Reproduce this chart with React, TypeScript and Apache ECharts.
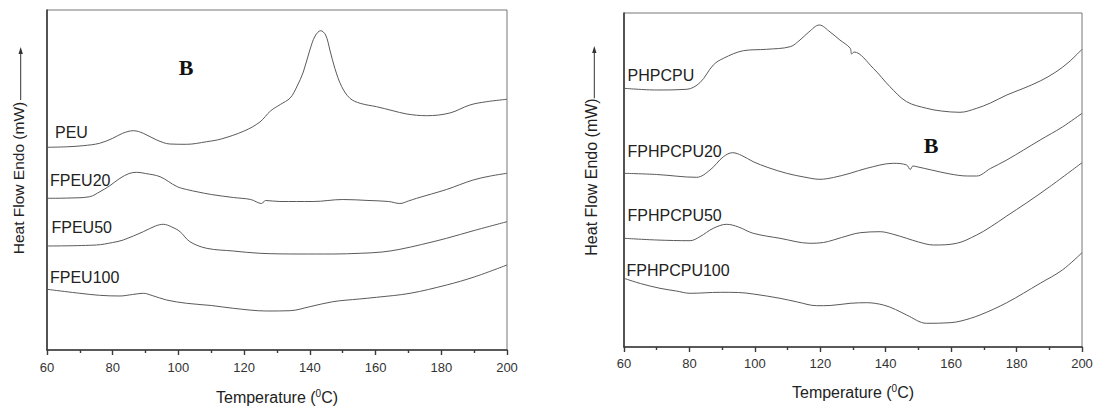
import React, { useEffect, useRef } from "react";
import * as echarts from "echarts";

// Temperature (°C) sample points and heat-flow values (arbitrary units, endo up)
const peuT = [60, 66, 71, 76, 80, 83, 86.3, 89.3, 93.4, 97.4, 102.5, 108.6, 113, 120, 124.8, 128, 131, 134, 136, 138, 140, 141.6, 143.3, 144.8, 146.1, 147.6, 149.7, 152.2, 155.3, 160.3, 165, 169.5, 175.5, 182.6, 188.7, 193.8, 200];
const peuV = [20.27, 20.32, 20.43, 20.67, 21.17, 21.67, 21.93, 21.67, 21.0, 20.6, 20.57, 20.83, 21.1, 21.9, 22.8, 23.9, 24.55, 25.2, 26.3, 27.8, 30.0, 31.4, 31.93, 31.5, 30.0, 28.17, 26.33, 25.17, 24.67, 24.33, 23.95, 23.6, 23.43, 23.7, 24.5, 24.83, 25.07];

const fpeu20T = [60, 67, 73, 76.1, 79, 82.2, 85, 87.3, 90, 94.4, 99.5, 102.5, 106, 110, 116.7, 122, 125.3, 126.5, 130.9, 141, 150, 158, 164, 167.4, 170, 172.5, 177, 181.6, 189.7, 195, 200];
const fpeu20V = [15.17, 15.2, 15.33, 15.83, 16.4, 17.17, 17.65, 17.77, 17.65, 17.33, 16.35, 16.05, 15.8, 15.55, 15.25, 15.05, 14.65, 14.95, 14.85, 14.85, 15.05, 14.95, 14.85, 14.65, 14.9, 15.17, 15.6, 16.05, 17.0, 17.4, 17.67];

const fpeu50T = [60, 75, 80, 83.2, 89.3, 93, 95.4, 98, 100.5, 103.5, 108.6, 116.7, 124.8, 137, 147, 155.3, 162, 167.4, 174, 181.6, 190, 200];
const fpeu50V = [10.4, 10.5, 10.75, 11.0, 11.83, 12.4, 12.57, 12.3, 11.83, 10.83, 10.17, 9.9, 9.67, 9.6, 9.6, 9.67, 9.8, 10.07, 10.55, 11.17, 11.95, 12.83];

const fpeu100T = [60, 70, 76, 82.2, 86, 89.3, 92, 96.4, 102.5, 110, 116.7, 126.9, 134, 140, 147, 155, 160.3, 170.5, 181.6, 190, 200];
const fpeu100V = [6.07, 5.67, 5.47, 5.4, 5.55, 5.67, 5.45, 5.0, 4.67, 4.45, 4.17, 3.9, 3.93, 4.33, 4.83, 5.1, 5.27, 5.67, 6.5, 7.3, 8.5];

const phpcpuT = [60, 70, 79.2, 83.2, 87.3, 90.4, 96.5, 103.6, 110.8, 113.8, 116.5, 119.7, 123, 126, 129.1, 129.6, 130.3, 136.2, 141.3, 146.4, 152.5, 157, 162.7, 167.8, 172, 177, 182, 187.2, 192, 196, 200];
const phpcpuV = [25.87, 25.7, 25.77, 26.43, 28.2, 28.87, 29.63, 29.77, 30.03, 30.7, 31.5, 32.2, 31.5, 30.7, 29.9, 29.3, 29.5, 27.87, 26.03, 24.53, 23.87, 23.6, 23.47, 23.87, 24.4, 25.2, 25.85, 26.6, 27.5, 28.5, 29.77];

const fph20T = [60, 70, 82.2, 86.3, 90.4, 93.2, 96, 99.5, 104, 109.7, 115, 119.9, 124, 129.1, 134.2, 142.3, 146.4, 147.5, 148.3, 149.5, 154, 159.7, 165, 167.8, 172, 177, 187.2, 194, 200];
const fph20V = [17.37, 17.25, 16.97, 17.7, 19.03, 19.43, 19.15, 18.53, 17.95, 17.37, 17.0, 16.77, 16.95, 17.37, 17.87, 18.37, 18.2, 17.75, 18.1, 18.03, 17.7, 17.3, 17.1, 17.1, 17.85, 18.7, 20.7, 22.0, 23.37];

const fph50T = [60, 70, 80.2, 83.2, 87.3, 91.4, 95, 99.5, 107.7, 116.9, 121, 124, 129.1, 132.2, 138.3, 142, 146.4, 150, 154.6, 161.7, 167.8, 172, 177, 183, 190, 200];
const fph50V = [10.87, 10.7, 10.63, 11.03, 11.87, 12.27, 12.0, 11.37, 10.87, 10.37, 10.45, 10.7, 11.2, 11.43, 11.53, 11.3, 10.87, 10.5, 10.2, 10.37, 11.2, 12.0, 13.1, 14.4, 16.0, 18.43];

const fph100T = [60, 65, 71, 76, 80.2, 89.4, 95, 99.5, 107.7, 113, 118.9, 123, 129.1, 134.2, 139.3, 143, 146.4, 152.5, 159.7, 163, 168.8, 177, 187.2, 194, 200];
const fph100V = [6.87, 6.35, 5.87, 5.6, 5.37, 5.47, 5.45, 5.3, 4.87, 4.5, 4.13, 4.15, 4.37, 4.43, 4.2, 3.75, 3.2, 2.37, 2.43, 2.6, 3.2, 4.43, 6.37, 7.7, 9.43];

const xTicks = { min: 60, max: 200, interval: 20 };
const leftNames = ["PEU", "FPEU20", "FPEU50", "FPEU100"];
const rightNames = ["PHPCPU", "FPHPCPU20", "FPHPCPU50", "FPHPCPU100"];
const xTitle = "Temperature (";
const yTitle = "Heat Flow Endo (mW)";
const panelMark = "B";

const pairs = (t: number[], v: number[]) => t.map((x, i) => [x, v[i]]);

const SANS = "'Liberation Sans', Arial, sans-serif";
const SERIF = "'Liberation Serif', 'Times New Roman', serif";
const AXIS = "#3a3a3a";
const CURVE = "#5a5a5a";

export default function App() {
  const ref = useRef<HTMLDivElement>(null);
  useEffect(() => {
    if (!ref.current) return;
    const chart = echarts.init(ref.current, undefined, { renderer: "svg" });

    const xAxisBase = (gridIndex: number, margin: number, nameGap: number) => ({
      type: "value",
      gridIndex,
      min: xTicks.min,
      max: xTicks.max,
      interval: xTicks.interval,
      axisLine: { show: true, onZero: false, lineStyle: { color: AXIS, width: 1.6 } },
      axisTick: { show: true, inside: false, length: 5, lineStyle: { color: AXIS, width: 1.4 } },
      minorTick: { show: true, splitNumber: 2, length: 3, lineStyle: { color: AXIS, width: 1.4 } },
      splitLine: { show: false },
      axisLabel: { color: "#333", fontSize: 13, fontFamily: SANS, margin },
      name: `{a|${xTitle}}{s|0}{a|C)}`,
      nameLocation: "middle",
      nameGap,
      nameTextStyle: {
        rich: {
          a: { fontSize: 16, fontFamily: SANS, color: "#222", lineHeight: 18 },
          s: { fontSize: 10, fontFamily: SANS, color: "#222", verticalAlign: "top", lineHeight: 18 },
        },
      },
    });
    const yAxisBase = (gridIndex: number, max: number) => ({
      type: "value",
      gridIndex,
      min: 0,
      max,
      axisLine: { show: true, onZero: false, lineStyle: { color: AXIS, width: 1.6 } },
      axisTick: { show: false },
      axisLabel: { show: false },
      splitLine: { show: false },
    });
    const line = (name: string, t: number[], v: number[], idx: number) => ({
      name,
      type: "line",
      xAxisIndex: idx,
      yAxisIndex: idx,
      data: pairs(t, v),
      showSymbol: false,
      smooth: 0.35,
      lineStyle: { color: CURVE, width: 1 },
      silent: true,
    });

    const label = (text: string, x: number, y: number) => ({
      type: "text",
      x,
      y,
      style: { text, fontSize: 16, fontFamily: SANS, fill: "#222", verticalAlign: "middle", align: "left" },
    });
    const yLabel = (x: number, y: number, fs: number) => ({
      type: "text",
      x,
      y,
      rotation: Math.PI / 2,
      style: { text: yTitle, fontSize: fs, fontFamily: SANS, fill: "#222", align: "center", verticalAlign: "middle" },
    });
    const arrow = (x: number, y1: number, y2: number) => [
      { type: "line", shape: { x1: x, y1, x2: x, y2: y2 + 5 }, style: { stroke: "#333", lineWidth: 1 } },
      { type: "polygon", shape: { points: [[x, y2], [x - 2.2, y2 + 7], [x + 2.2, y2 + 7]] }, style: { fill: "#333" } },
    ];

    chart.setOption({
      animation: false,
      backgroundColor: "#fff",
      grid: [
        { left: 47, top: 10, width: 460, height: 340, show: true, borderColor: "#777", borderWidth: 1, backgroundColor: "transparent", containLabel: false, outerBoundsMode: "none" },
        { left: 624, top: 13, width: 458, height: 334, show: true, borderColor: "#777", borderWidth: 1, backgroundColor: "transparent", containLabel: false, outerBoundsMode: "none" },
      ],
      xAxis: [xAxisBase(0, 11, 38), xAxisBase(1, 10, 36)],
      yAxis: [yAxisBase(0, 34), yAxisBase(1, 33.4)],
      series: [
        line(leftNames[0], peuT, peuV, 0),
        line(leftNames[1], fpeu20T, fpeu20V, 0),
        line(leftNames[2], fpeu50T, fpeu50V, 0),
        line(leftNames[3], fpeu100T, fpeu100V, 0),
        line(rightNames[0], phpcpuT, phpcpuV, 1),
        line(rightNames[1], fph20T, fph20V, 1),
        line(rightNames[2], fph50T, fph50V, 1),
        line(rightNames[3], fph100T, fph100V, 1),
      ],
      graphic: [
        label(leftNames[0], 55, 132),
        label(leftNames[1], 50, 180),
        label(leftNames[2], 51.5, 227),
        label(leftNames[3], 50, 277.5),
        label(rightNames[0], 627.5, 75),
        label(rightNames[1], 627.5, 151),
        label(rightNames[2], 627.5, 215),
        label(rightNames[3], 626.5, 270),
        {
          type: "text", x: 186, y: 67,
          style: { text: panelMark, fontSize: 22, fontWeight: "bold", fontFamily: SERIF, fill: "#111", align: "center", verticalAlign: "middle" },
        },
        {
          type: "text", x: 931, y: 145,
          style: { text: panelMark, fontSize: 22, fontWeight: "bold", fontFamily: SERIF, fill: "#111", align: "center", verticalAlign: "middle" },
        },
        yLabel(18.8, 178, 15.5),
        yLabel(591, 177, 16),
        ...arrow(20.7, 100, 47),
        ...arrow(594.3, 98.3, 46),
      ],
    });
    return () => chart.dispose();
  }, []);
  return <div ref={ref} style={{ position: "absolute", left: 0, top: 0, width: 1100, height: 409 }} />;
}
